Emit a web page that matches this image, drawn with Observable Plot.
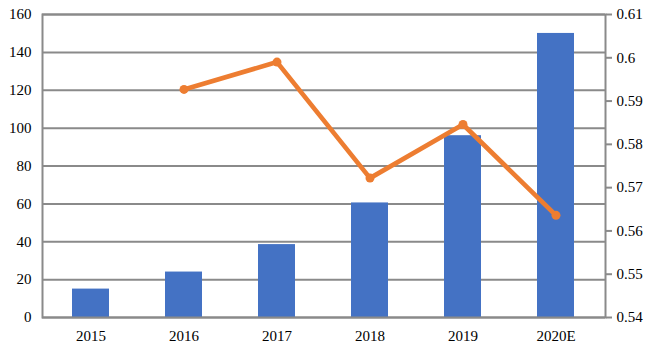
<!DOCTYPE html>
<html>
<head>
<meta charset="utf-8">
<script src="https://cdn.jsdelivr.net/npm/d3@7"></script>
<script src="https://cdn.jsdelivr.net/npm/@observablehq/plot@0.6"></script>
<style>
  html, body { margin: 0; padding: 0; background: #fff; }
  svg { display: block; }
  svg text { font-family: "Liberation Serif", "Times New Roman", serif; }
</style>
</head>
<body>
<div id="chart"></div>
<script>
const years = ["2015", "2016", "2017", "2018", "2019", "2020E"];
const barValues = [15, 24, 38.5, 60.5, 96, 150];
const lineValues = [null, 0.5927, 0.599, 0.5722, 0.5846, 0.5636];
const leftTicks = [0, 20, 40, 60, 80, 100, 120, 140, 160];
const rightTicks = [0.54, 0.55, 0.56, 0.57, 0.58, 0.59, 0.6, 0.61];

const rMin = 0.54, rMax = 0.61, lMax = 160;
const toLeft = v => (v - rMin) / (rMax - rMin) * lMax;

const bars = years.map((y, i) => ({year: y, value: barValues[i]}));
const pts = years.map((y, i) => ({year: y, value: lineValues[i]}))
  .filter(d => d.value != null)
  .map(d => ({year: d.year, pos: toLeft(d.value)}));
const rightPos = rightTicks.map(v => ({pos: toLeft(v), label: String(v)}));

const grid = "#8a8a8a";
const font = {fontSize: 15, fontFamily: "Liberation Serif"};
const chart = Plot.plot({
  width: 654,
  height: 356,
  marginTop: 14,
  marginBottom: 39,
  marginLeft: 42,
  marginRight: 49,
  style: {fontFamily: "'Liberation Serif', 'Times New Roman', serif", fontSize: "15px", color: "#000", background: "#fff"},
  x: {domain: years, paddingInner: 0.6, paddingOuter: 0.3, label: null},
  y: {domain: [0, lMax], label: null},
  marks: [
    Plot.ruleY(leftTicks, {stroke: grid, strokeWidth: 2}),
    Plot.barY(bars, {x: "year", y: "value", fill: "#4472C4"}),
    Plot.frame({stroke: grid, strokeWidth: 2}),
    Plot.axisY(leftTicks, {anchor: "left", tickSize: 0, tickPadding: 11, label: null, ...font}),
    Plot.axisY(rightPos.map(d => d.pos), {anchor: "right", tickSize: 6, tickPadding: 5, stroke: grid, strokeWidth: 2,
      tickFormat: p => rightPos.find(d => Math.abs(d.pos - p) < 1e-6).label, label: null, ...font}),
    Plot.axisX(years, {anchor: "bottom", tickSize: 0, tickPadding: 13, label: null, ...font}),
    Plot.line(pts, {x: "year", y: "pos", stroke: "#ED7D31", strokeWidth: 4.7}),
    Plot.dot(pts, {x: "year", y: "pos", r: 4.5, fill: "#ED7D31"})
  ]
});
document.getElementById("chart").appendChild(chart);
</script>
</body>
</html>
